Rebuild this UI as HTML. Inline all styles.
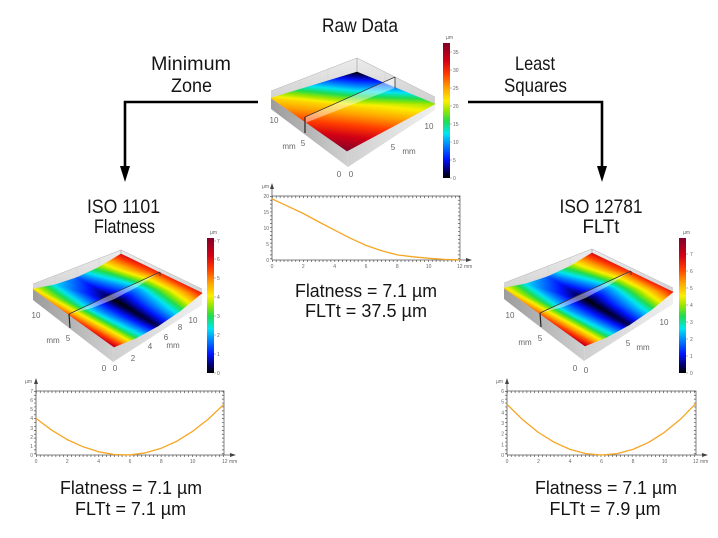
<!DOCTYPE html>
<html><head><meta charset="utf-8"><title>Flatness comparison</title>
<style>
html,body{margin:0;padding:0;background:#fff;width:718px;height:538px;overflow:hidden}
svg{display:block}
.t{font-family:"Liberation Sans",Arial,sans-serif;fill:#151515}
.a{font-family:"Liberation Sans",Arial,sans-serif;fill:#666;font-size:8px}
.s{font-family:"Liberation Sans",Arial,sans-serif;fill:#666;font-size:5px}
</style></head><body>
<svg width="718" height="538" viewBox="0 0 718 538" xmlns="http://www.w3.org/2000/svg" xmlns:xlink="http://www.w3.org/1999/xlink">
<defs>
<linearGradient id="cm">
<stop offset="0" stop-color="#000000"/><stop offset="0.06" stop-color="rgb(0,0,110)"/><stop offset="0.14" stop-color="rgb(0,20,255)"/><stop offset="0.25" stop-color="rgb(0,140,255)"/><stop offset="0.33" stop-color="rgb(0,230,240)"/><stop offset="0.42" stop-color="rgb(30,220,80)"/><stop offset="0.5" stop-color="rgb(150,230,0)"/><stop offset="0.57" stop-color="rgb(250,240,0)"/><stop offset="0.67" stop-color="rgb(255,160,0)"/><stop offset="0.77" stop-color="rgb(255,60,0)"/><stop offset="0.87" stop-color="rgb(210,0,20)"/><stop offset="1" stop-color="rgb(130,0,40)"/>
</linearGradient>
<linearGradient id="cbar" x1="0" y1="1" x2="0" y2="0" xlink:href="#cm"/>
<!-- center triangles -->
<linearGradient id="c1" gradientUnits="userSpaceOnUse" x1="274.5" y1="63.6" x2="268.7" y2="120.9" xlink:href="#cm"/>
<linearGradient id="c2" gradientUnits="userSpaceOnUse" x1="357" y1="72" x2="354.6" y2="129.4" xlink:href="#cm"/>
<linearGradient id="c3" gradientUnits="userSpaceOnUse" x1="441.1" y1="48" x2="428.9" y2="160" xlink:href="#cm"/>
<linearGradient id="c4" gradientUnits="userSpaceOnUse" x1="277.8" y1="30.8" x2="266.4" y2="142.8" xlink:href="#cm"/>
<!-- left triangles -->
<linearGradient id="l1" gradientUnits="userSpaceOnUse" x1="52.5" y1="260.8" x2="20" y2="307.8" xlink:href="#cm"/>
<linearGradient id="l2" gradientUnits="userSpaceOnUse" x1="43.76" y1="269.8" x2="25.83" y2="301.8" xlink:href="#cm"/>
<linearGradient id="l3" gradientUnits="userSpaceOnUse" x1="86.26" y1="294.19" x2="69.25" y2="325.94" xlink:href="#cm"/>
<linearGradient id="l4" gradientUnits="userSpaceOnUse" x1="87.5" y1="292.67" x2="68.83" y2="326.44" xlink:href="#cm"/>
<linearGradient id="l5" gradientUnits="userSpaceOnUse" x1="115.04" y1="278.42" x2="-72.57" y2="298.21" xlink:href="#cm"/>
<linearGradient id="l6" gradientUnits="userSpaceOnUse" x1="67.54" y1="266.82" x2="28.35" y2="322.86" xlink:href="#cm"/>
<linearGradient id="l7" gradientUnits="userSpaceOnUse" x1="104.29" y1="294.77" x2="74.98" y2="350.21" xlink:href="#cm"/>
<linearGradient id="l8" gradientUnits="userSpaceOnUse" x1="102.46" y1="296.92" x2="79.26" y2="345.18" xlink:href="#cm"/>
<linearGradient id="l9" gradientUnits="userSpaceOnUse" x1="74.24" y1="288.17" x2="88.03" y2="234.82" xlink:href="#cm"/>
<linearGradient id="l10" gradientUnits="userSpaceOnUse" x1="73.65" y1="289.88" x2="90.4" y2="227.97" xlink:href="#cm"/>
<linearGradient id="l11" gradientUnits="userSpaceOnUse" x1="117.5" y1="301.75" x2="170.69" y2="236.03" xlink:href="#cm"/>
<linearGradient id="l12" gradientUnits="userSpaceOnUse" x1="117.5" y1="301.75" x2="158.8" y2="241.57" xlink:href="#cm"/>
<linearGradient id="l13" gradientUnits="userSpaceOnUse" x1="88.93" y1="291.96" x2="109.91" y2="240.48" xlink:href="#cm"/>
<linearGradient id="l14" gradientUnits="userSpaceOnUse" x1="92.85" y1="286.23" x2="105.66" y2="246.68" xlink:href="#cm"/>
<linearGradient id="l15" gradientUnits="userSpaceOnUse" x1="133.69" y1="300.56" x2="154.44" y2="259.63" xlink:href="#cm"/>
<linearGradient id="l16" gradientUnits="userSpaceOnUse" x1="129.16" y1="303.23" x2="166.1" y2="252.77" xlink:href="#cm"/>
<linearGradient id="wallG" x1="0" y1="0" x2="0" y2="1"><stop offset="0" stop-color="#ececec"/><stop offset="1" stop-color="#cdcdcd"/></linearGradient>
<linearGradient id="faceL" x1="0" y1="0" x2="1" y2="0"><stop offset="0" stop-color="#9c9c9c"/><stop offset="1" stop-color="#d0d0d0"/></linearGradient>
<linearGradient id="faceR" x1="0" y1="0" x2="1" y2="0"><stop offset="0" stop-color="#cfcfcf"/><stop offset="1" stop-color="#f0f0f0"/></linearGradient>
</defs>

<!-- Titles -->
<text class="t" x="360" y="32" font-size="19.5" text-anchor="middle" textLength="76" lengthAdjust="spacingAndGlyphs">Raw Data</text>
<text class="t" x="191" y="70" font-size="19.5" text-anchor="middle" textLength="80" lengthAdjust="spacingAndGlyphs">Minimum</text>
<text class="t" x="191.5" y="92" font-size="19.5" text-anchor="middle" textLength="41" lengthAdjust="spacingAndGlyphs">Zone</text>
<text class="t" x="535" y="70" font-size="19.5" text-anchor="middle" textLength="40" lengthAdjust="spacingAndGlyphs">Least</text>
<text class="t" x="535.5" y="92" font-size="19.5" text-anchor="middle" textLength="63" lengthAdjust="spacingAndGlyphs">Squares</text>
<text class="t" x="123.5" y="213" font-size="19.5" text-anchor="middle" textLength="73" lengthAdjust="spacingAndGlyphs">ISO 1101</text>
<text class="t" x="124.5" y="233" font-size="19.5" text-anchor="middle" textLength="61" lengthAdjust="spacingAndGlyphs">Flatness</text>
<text class="t" x="601" y="213" font-size="19.5" text-anchor="middle" textLength="83" lengthAdjust="spacingAndGlyphs">ISO 12781</text>
<text class="t" x="601" y="233" font-size="19.5" text-anchor="middle" textLength="37" lengthAdjust="spacingAndGlyphs">FLTt</text>

<!-- Arrows -->
<path d="M258,102 H125 V168" fill="none" stroke="#000" stroke-width="2.6"/>
<path d="M120,166 L130,166 L125,182 Z" fill="#000"/>
<path d="M468,102 H602 V168" fill="none" stroke="#000" stroke-width="2.6"/>
<path d="M597,166 L607,166 L602,182 Z" fill="#000"/>

<!-- ===== Center 3D ===== -->
<polygon points="271,91 357,58 435,97 435,106 357,74 271,100" fill="url(#wallG)"/>
<path d="M271,91 L357,58 L435,97" fill="none" stroke="#bbb" stroke-width="0.6"/>
<path d="M357,58 V72" stroke="#999" stroke-width="0.6"/>
<path d="M300,80 V92 M328,69 V82 M385,72 V80 M412,85 V94" stroke="#d0d0d0" stroke-width="0.5"/>
<polygon points="271,98 347,151 348,167 271,109" fill="url(#faceL)"/>
<polygon points="347,151 435,104 435,110 348,167" fill="url(#faceR)"/>
<g stroke-width="0.6" stroke-linejoin="round">
<polygon points="271,98 357,72 352.5,106.3" fill="url(#c1)" stroke="url(#c1)"/>
<polygon points="357,72 435,104 352.5,106.3" fill="url(#c2)" stroke="url(#c2)"/>
<polygon points="435,104 347,151 352.5,106.3" fill="url(#c3)" stroke="url(#c3)"/>
<polygon points="347,151 271,98 352.5,106.3" fill="url(#c4)" stroke="url(#c4)"/>
</g>
<polygon points="305,117 395,77 395,88 305,123" fill="#fff" opacity="0.45"/>
<path d="M305,117 L395,77" stroke="#333" stroke-width="0.7"/>
<path d="M305,117 V133" stroke="#222" stroke-width="1.2"/>
<path d="M395,77 V88" stroke="#333" stroke-width="0.8"/>
<text class="a" x="274" y="123" text-anchor="middle">10</text>
<text class="a" x="289" y="149" text-anchor="middle">mm</text>
<text class="a" x="303" y="146" text-anchor="middle">5</text>
<text class="a" x="339" y="177" text-anchor="middle">0</text>
<text class="a" x="351" y="177" text-anchor="middle">0</text>
<text class="a" x="393" y="150" text-anchor="middle">5</text>
<text class="a" x="409" y="154" text-anchor="middle">mm</text>
<text class="a" x="429" y="129" text-anchor="middle">10</text>
<rect x="443" y="43" width="7" height="135" fill="url(#cbar)"/>
<path d="M450,52 h2 M450,70 h2 M450,88 h2 M450,106 h2 M450,124 h2 M450,142 h2 M450,160 h2 M450,178 h2" stroke="#777" stroke-width="0.5"/>
<text class="s" x="446" y="39">µm</text>
<text class="s" x="453" y="54">35</text><text class="s" x="453" y="72">30</text><text class="s" x="453" y="90">25</text><text class="s" x="453" y="108">20</text><text class="s" x="453" y="126">15</text><text class="s" x="453" y="144">10</text><text class="s" x="453" y="162">5</text><text class="s" x="453" y="180">0</text>

<!-- ===== Left 3D (reused for right) ===== -->
<g id="box3d">
<polygon points="33,284 121,250 202,289 202,300 121,266 33,300" fill="url(#wallG)"/>
<path d="M33,284 L121,250 L202,289" fill="none" stroke="#bbb" stroke-width="0.6"/>
<path d="M121,250 V254" stroke="#999" stroke-width="0.6"/>
<path d="M55,276 V286 M77,267 V278 M99,259 V268 M145,262 V270 M170,274 V282" stroke="#d0d0d0" stroke-width="0.5"/>
<polygon points="33,289 114,347 113,362 33,300" fill="url(#faceL)"/>
<polygon points="114,347 202,293 202,305 113,362" fill="url(#faceR)"/>
<g stroke-width="0.6" stroke-linejoin="round">
<polygon points="33,289 55,284.75 95.5,311.4" fill="url(#l1)" stroke="url(#l1)"/>
<polygon points="33,289 95.5,311.4 73.5,318" fill="url(#l2)" stroke="url(#l2)"/>
<polygon points="73.5,318 95.5,311.4 136,338" fill="url(#l3)" stroke="url(#l3)"/>
<polygon points="73.5,318 136,338 114,347" fill="url(#l4)" stroke="url(#l4)"/>
<polygon points="55,284.75 77,277.5 117.5,301.75" fill="url(#l5)" stroke="url(#l5)"/>
<polygon points="55,284.75 117.5,301.75 95.5,311.4" fill="url(#l6)" stroke="url(#l6)"/>
<polygon points="95.5,311.4 117.5,301.75 158,326" fill="url(#l7)" stroke="url(#l7)"/>
<polygon points="95.5,311.4 158,326 136,338" fill="url(#l8)" stroke="url(#l8)"/>
<polygon points="77,277.5 99,267.25 139.5,289.1" fill="url(#l9)" stroke="url(#l9)"/>
<polygon points="77,277.5 139.5,289.1 117.5,301.75" fill="url(#l10)" stroke="url(#l10)"/>
<polygon points="117.5,301.75 139.5,289.1 180,311" fill="url(#l11)" stroke="url(#l11)"/>
<polygon points="117.5,301.75 180,311 158,326" fill="url(#l12)" stroke="url(#l12)"/>
<polygon points="99,267.25 121,254 161.5,273.5" fill="url(#l13)" stroke="url(#l13)"/>
<polygon points="99,267.25 161.5,273.5 139.5,289.1" fill="url(#l14)" stroke="url(#l14)"/>
<polygon points="139.5,289.1 161.5,273.5 202,293" fill="url(#l15)" stroke="url(#l15)"/>
<polygon points="139.5,289.1 202,293 180,311" fill="url(#l16)" stroke="url(#l16)"/>
</g>
<polygon points="69,314 160,272 137,287 114.5,299 92,308" fill="#fff" opacity="0.45"/>
<path d="M69,314 L160,272" stroke="#333" stroke-width="0.7"/>
<path d="M69,314 L70,328" stroke="#222" stroke-width="1.2"/>
<path d="M160,272 V276" stroke="#333" stroke-width="0.8"/>
</g>
<use xlink:href="#box3d" href="#box3d" transform="translate(471,-1)"/>

<!-- Left labels / colorbar -->
<text class="a" x="36" y="318" text-anchor="middle">10</text>
<text class="a" x="53" y="343" text-anchor="middle">mm</text>
<text class="a" x="68" y="341" text-anchor="middle">5</text>
<text class="a" x="104" y="371" text-anchor="middle">0</text>
<text class="a" x="115" y="371" text-anchor="middle">0</text>
<text class="a" x="133" y="361" text-anchor="middle">2</text>
<text class="a" x="150" y="349" text-anchor="middle">4</text>
<text class="a" x="173" y="348" text-anchor="middle">mm</text>
<text class="a" x="166" y="340" text-anchor="middle">6</text>
<text class="a" x="180" y="330" text-anchor="middle">8</text>
<text class="a" x="193" y="323" text-anchor="middle">10</text>
<rect x="207" y="238" width="7" height="135" fill="url(#cbar)"/>
<path d="M214,241 h2 M214,259 h2 M214,278 h2 M214,297 h2 M214,316 h2 M214,335 h2 M214,354 h2 M214,373 h2" stroke="#777" stroke-width="0.5"/>
<text class="s" x="210" y="234">µm</text>
<text class="s" x="217" y="243">7</text><text class="s" x="217" y="261">6</text><text class="s" x="217" y="280">5</text><text class="s" x="217" y="299">4</text><text class="s" x="217" y="318">3</text><text class="s" x="217" y="337">2</text><text class="s" x="217" y="356">1</text><text class="s" x="217" y="375">0</text>

<!-- Right labels / colorbar -->
<text class="a" x="510" y="318" text-anchor="middle">10</text>
<text class="a" x="525" y="345" text-anchor="middle">mm</text>
<text class="a" x="540" y="341" text-anchor="middle">5</text>
<text class="a" x="575" y="371" text-anchor="middle">0</text>
<text class="a" x="586" y="373" text-anchor="middle">0</text>
<text class="a" x="628" y="346" text-anchor="middle">5</text>
<text class="a" x="643" y="350" text-anchor="middle">mm</text>
<text class="a" x="664" y="325" text-anchor="middle">10</text>
<rect x="679" y="238" width="7" height="135" fill="url(#cbar)"/>
<path d="M686,254 h2 M686,271 h2 M686,288 h2 M686,305 h2 M686,322 h2 M686,339 h2 M686,356 h2 M686,373 h2" stroke="#777" stroke-width="0.5"/>
<text class="s" x="683" y="234">µm</text>
<text class="s" x="690" y="256">7</text><text class="s" x="690" y="273">6</text><text class="s" x="690" y="290">5</text><text class="s" x="690" y="307">4</text><text class="s" x="690" y="324">3</text><text class="s" x="690" y="341">2</text><text class="s" x="690" y="358">1</text><text class="s" x="690" y="375">0</text>

<!-- ===== Center profile ===== -->
<g fill="none" stroke="#555">
<path d="M272,260 H468 M272,260 V186" stroke-width="0.8"/>
<path d="M272,196 H460 V260" stroke-width="0.7"/>
<path d="M272,197 H460" stroke-width="2.2" stroke-dasharray="0.7 3.2"/>
<path d="M459,196 V260" stroke-width="2.2" stroke-dasharray="0.7 3.2"/>
<path d="M272,261 H460" stroke-width="2" stroke-dasharray="0.7 3.2"/>
<path d="M271,196 V260" stroke-width="2" stroke-dasharray="0.7 3.2"/>
</g>
<path d="M270,189 L272,183 L274,189 Z M466,258 L472,260 L466,262 Z" fill="#444"/>
<polyline points="272,198.9 287.7,206.2 303.3,213.5 319,222 334.7,230.2 350.3,238.2 366,245.4 381.7,250.8 397.3,254.9 413,256.8 428.7,258.3 444.3,259.4 460,259.8" fill="none" stroke="#f5a623" stroke-width="1.3" stroke-linejoin="round"/>
<text class="s" x="262" y="188">µm</text>
<g class="s" text-anchor="end"><text x="269" y="198">20</text><text x="269" y="214">15</text><text x="269" y="230">10</text><text x="269" y="246">5</text><text x="269" y="262">0</text></g>
<g class="s" text-anchor="middle"><text x="272" y="268">0</text><text x="303.3" y="268">2</text><text x="334.7" y="268">4</text><text x="366" y="268">6</text><text x="397.3" y="268">8</text><text x="428.7" y="268">10</text></g>
<text class="s" x="457" y="268">12 mm</text>

<!-- ===== Left profile ===== -->
<g fill="none" stroke="#555">
<path d="M36,455 H232 M36,455 V380" stroke-width="0.8"/>
<path d="M36,391 H224 V455" stroke-width="0.7"/>
<path d="M36,392 H224" stroke-width="2.2" stroke-dasharray="0.7 3.2"/>
<path d="M223,391 V455" stroke-width="2.2" stroke-dasharray="0.7 3.2"/>
<path d="M36,456 H224" stroke-width="2" stroke-dasharray="0.7 3.2"/>
<path d="M35,391 V455" stroke-width="2" stroke-dasharray="0.7 3.2"/>
</g>
<path d="M34,384 L36,378 L38,384 Z M230,453 L236,455 L230,457 Z" fill="#444"/>
<polyline points="36,418.4 51.7,430.2 67.3,439.6 83,446.8 98.7,451.8 114.3,454.5 130,454.9 145.7,452.8 161.3,448.2 177,441.1 192.7,431.3 208.3,419.1 224,404.2" fill="none" stroke="#f5a623" stroke-width="1.3" stroke-linejoin="round"/>
<text class="s" x="25" y="383">µm</text>
<g class="s" text-anchor="end"><text x="33" y="393">7</text><text x="33" y="402">6</text><text x="33" y="411">5</text><text x="33" y="420">4</text><text x="33" y="430">3</text><text x="33" y="439">2</text><text x="33" y="448">1</text><text x="33" y="457">0</text></g>
<g class="s" text-anchor="middle"><text x="36" y="463">0</text><text x="67.3" y="463">2</text><text x="98.7" y="463">4</text><text x="130" y="463">6</text><text x="161.3" y="463">8</text><text x="192.7" y="463">10</text></g>
<text class="s" x="222" y="463">12 mm</text>

<!-- ===== Right profile ===== -->
<g fill="none" stroke="#555">
<path d="M507,455 H704 M507,455 V380" stroke-width="0.8"/>
<path d="M507,391 H696 V455" stroke-width="0.7"/>
<path d="M507,392 H696" stroke-width="2.2" stroke-dasharray="0.7 3.2"/>
<path d="M695,391 V455" stroke-width="2.2" stroke-dasharray="0.7 3.2"/>
<path d="M507,456 H696" stroke-width="2" stroke-dasharray="0.7 3.2"/>
<path d="M506,391 V455" stroke-width="2" stroke-dasharray="0.7 3.2"/>
</g>
<path d="M505,384 L507,378 L509,384 Z M702,453 L708,455 L702,457 Z" fill="#444"/>
<polyline points="507,404.3 522.75,419.8 538.5,432.5 554.25,442.3 570,449.4 585.75,453.6 601.5,455 617.25,453.6 633,449.4 648.75,442.3 664.5,432.3 680.25,419.4 696,403.3" fill="none" stroke="#f5a623" stroke-width="1.3" stroke-linejoin="round"/>
<text class="s" x="496" y="383">µm</text>
<g class="s" text-anchor="end"><text x="504" y="393">6</text><text x="504" y="403.7">5</text><text x="504" y="414.3">4</text><text x="504" y="425">3</text><text x="504" y="435.7">2</text><text x="504" y="446.3">1</text><text x="504" y="457">0</text></g>
<g class="s" text-anchor="middle"><text x="507" y="463">0</text><text x="538.5" y="463">2</text><text x="570" y="463">4</text><text x="601.5" y="463">6</text><text x="633" y="463">8</text><text x="664.5" y="463">10</text></g>
<text class="s" x="693" y="463">12 mm</text>

<!-- Result texts -->
<text class="t" x="366" y="297" font-size="18" text-anchor="middle" textLength="142" lengthAdjust="spacingAndGlyphs">Flatness = 7.1 µm</text>
<text class="t" x="366" y="317" font-size="18" text-anchor="middle" textLength="122" lengthAdjust="spacingAndGlyphs">FLTt = 37.5 µm</text>
<text class="t" x="131" y="494" font-size="18" text-anchor="middle" textLength="142" lengthAdjust="spacingAndGlyphs">Flatness = 7.1 µm</text>
<text class="t" x="130.5" y="515" font-size="18" text-anchor="middle" textLength="111" lengthAdjust="spacingAndGlyphs">FLTt = 7.1 µm</text>
<text class="t" x="606" y="494" font-size="18" text-anchor="middle" textLength="142" lengthAdjust="spacingAndGlyphs">Flatness = 7.1 µm</text>
<text class="t" x="605" y="515" font-size="18" text-anchor="middle" textLength="111" lengthAdjust="spacingAndGlyphs">FLTt = 7.9 µm</text>
</svg>
</body></html>
